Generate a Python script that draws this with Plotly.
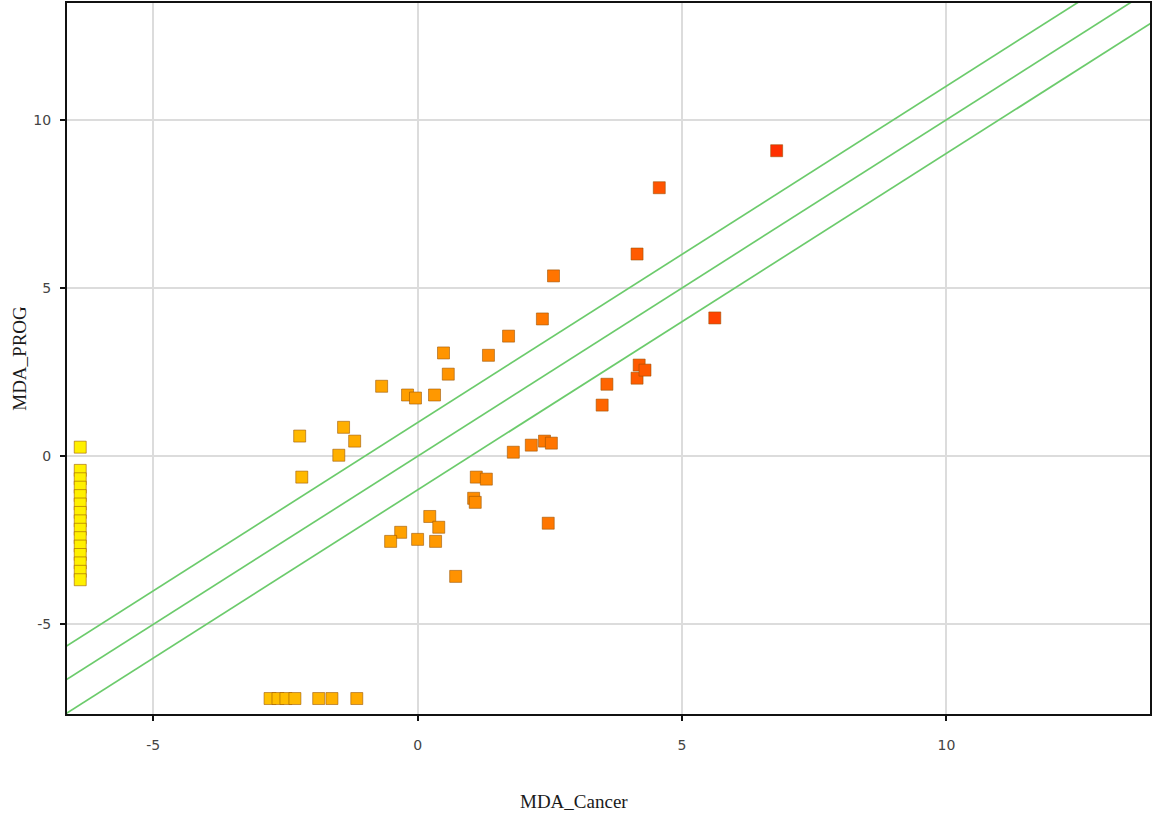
import plotly.graph_objects as go

# Data
col_x = [-6.38] * 15
col_y = [0.27, -0.42, -0.67, -0.92, -1.17, -1.42, -1.67, -1.92, -2.17, -2.42,
         -2.67, -2.92, -3.17, -3.42, -3.67]

bottom_x = [-2.79, -2.64, -2.49, -2.32, -1.87, -1.62, -1.15]
bottom_y = [-7.2] * 7

main_x = [-2.23, -2.19, -1.40, -1.19, -1.49, -0.68, -0.19, -0.04, 0.32, 0.49,
          0.58, 1.34, 1.72, 2.36, 2.57, 4.15, 4.57, 6.79, 5.62, 3.58,
          3.49, 4.19, 4.15, 4.30, 1.81, 2.15, 2.40, 2.53, 1.11, 1.30,
          1.06, 1.09, 2.47, 0.23, 0.40, -0.32, -0.51, 0.00, 0.34, 0.72]
main_y = [0.60, -0.62, 0.86, 0.45, 0.03, 2.08, 1.82, 1.73, 1.82, 3.07,
          2.44, 3.00, 3.57, 4.08, 5.36, 6.01, 7.98, 9.08, 4.11, 2.14,
          1.52, 2.71, 2.32, 2.56, 0.12, 0.33, 0.45, 0.39, -0.62, -0.68,
          -1.25, -1.37, -1.99, -1.79, -2.11, -2.26, -2.53, -2.47, -2.53, -3.57]

band_offsets = [1, 0, -1]
x_range = [-6.63, 13.85]
y_range = [-7.66, 13.47]
x_ticks = [-5, 0, 5, 10]
x_ticktext = ["-5", "0", "5", "10"]
y_ticks = [-5, 0, 5, 10]
y_ticktext = ["-5", "0", "5", "10"]
x_title = "MDA_Cancer"
y_title = "MDA_PROG"

all_x = col_x + bottom_x + main_x
all_y = col_y + bottom_y + main_y

colorscale = [[0.0, "#FFF000"], [0.3, "#FFBC00"], [0.5, "#FF9A00"],
              [0.7, "#FF7000"], [0.85, "#FF5000"], [1.0, "#FF3000"]]

fig = go.Figure()

for c in band_offsets:
    lx = [x_range[0] - 1, x_range[1] + 1]
    fig.add_trace(go.Scatter(
        x=lx, y=[v + c for v in lx], mode="lines",
        line=dict(color="#6CCB6C", width=1.7),
        hoverinfo="skip", showlegend=False))

fig.add_trace(go.Scatter(
    x=all_x, y=all_y, mode="markers",
    marker=dict(symbol="square", size=12, color=all_x,
                colorscale=colorscale, cmin=-6.4, cmax=6.8,
                line=dict(color="rgba(150,80,0,0.55)", width=1)),
    showlegend=False))

axis_common = dict(
    showgrid=True, gridcolor="#DCDCDC", gridwidth=1.5,
    zeroline=False, showline=True, linecolor="#111", linewidth=2,
    mirror=True, ticks="outside", ticklen=5, tickcolor="#111", tickwidth=2,
    tickfont=dict(family="DejaVu Sans", size=14, color="#444"),
)

fig.update_layout(
    width=1153, height=825,
    margin=dict(l=67, r=1, t=3, b=111),
    paper_bgcolor="white", plot_bgcolor="white",
    xaxis=dict(range=x_range, tickvals=x_ticks, ticktext=x_ticktext,
               ticklabelstandoff=12, **axis_common),
    yaxis=dict(range=y_range, tickvals=y_ticks, ticktext=y_ticktext,
               ticklabelstandoff=6,
               title=dict(text=y_title, standoff=2,
                          font=dict(family="Liberation Serif", size=19, color="#1a1a1a")),
               **axis_common),
    annotations=[dict(text=x_title, xref="paper", yref="paper",
                      x=0.468, y=-0.123, xanchor="center", yanchor="middle",
                      showarrow=False,
                      font=dict(family="Liberation Serif", size=19, color="#1a1a1a"))],
)

post = ("document.body.style.margin='0';document.body.style.padding='0';"
        "document.body.style.overflow='hidden';"
        "Plotly.relayout('{plot_id}', {width:1153, height:825});")

fig.write_html("out.html", post_script=post, config={"displayModeBar": False})
